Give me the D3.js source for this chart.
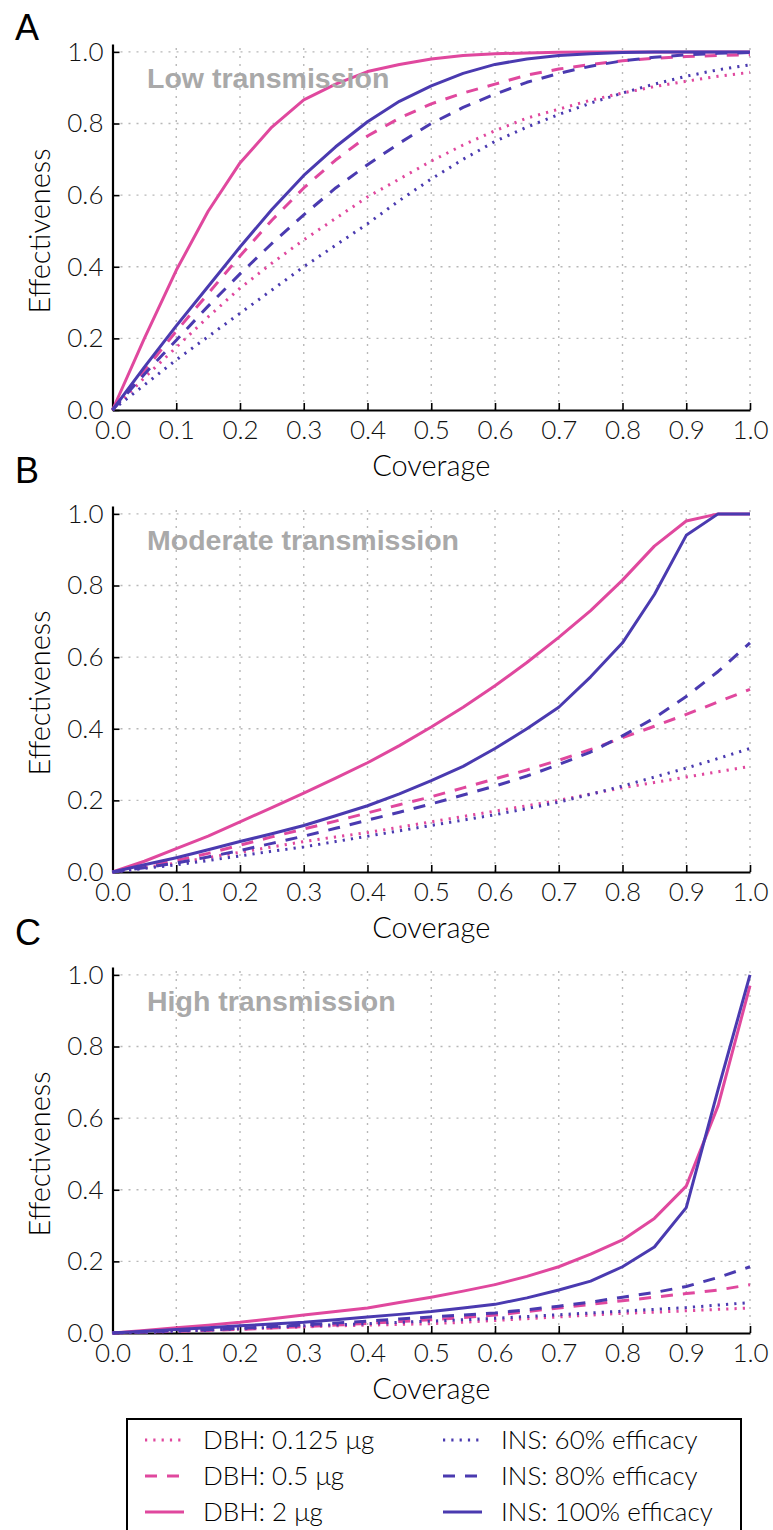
<!DOCTYPE html>
<html>
<head>
<meta charset="utf-8">
<script src="https://cdn.jsdelivr.net/npm/d3@7"></script>
<style>
  body { margin: 0; background: #fff; }
  svg { display: block; }
  text { font-family: Lato, Roboto, "Liberation Sans", sans-serif; font-weight: 300; }
</style>
</head>
<body>
<div id="chart"></div>
<script>
// coverage values (x) shared by all panels
const coverage = [0, 0.05, 0.1, 0.15, 0.2, 0.25, 0.3, 0.35, 0.4, 0.45, 0.5, 0.55, 0.6, 0.65, 0.7, 0.75, 0.8, 0.85, 0.9, 0.95, 1.0];
const xTicks = [0, 0.1, 0.2, 0.3, 0.4, 0.5, 0.6, 0.7, 0.8, 0.9, 1.0];
const yTicks = [0, 0.2, 0.4, 0.6, 0.8, 1.0];

const panelLetters = ["A", "B", "C"];
const panelTitles = ["Low transmission", "Moderate transmission", "High transmission"];
const seriesNames = ["DBH: 0.125 μg", "DBH: 0.5 μg", "DBH: 2 μg", "INS: 60% efficacy", "INS: 80% efficacy", "INS: 100% efficacy"];

// A - low transmission
const lowDbh0125 = [0, 0.09, 0.175, 0.26, 0.34, 0.41, 0.475, 0.535, 0.595, 0.645, 0.695, 0.74, 0.78, 0.815, 0.84, 0.865, 0.885, 0.903, 0.918, 0.932, 0.943];
const lowDbh05 = [0, 0.11, 0.22, 0.325, 0.43, 0.53, 0.62, 0.698, 0.765, 0.815, 0.855, 0.885, 0.91, 0.935, 0.952, 0.965, 0.975, 0.982, 0.987, 0.99, 0.992];
const lowDbh2 = [0, 0.2, 0.39, 0.555, 0.69, 0.79, 0.866, 0.91, 0.945, 0.965, 0.98, 0.99, 0.995, 0.997, 0.999, 1, 1, 1, 1, 1, 1];
const lowIns60 = [0, 0.07, 0.14, 0.205, 0.27, 0.335, 0.4, 0.46, 0.52, 0.585, 0.645, 0.7, 0.75, 0.79, 0.825, 0.857, 0.885, 0.91, 0.932, 0.95, 0.964];
const lowIns80 = [0, 0.1, 0.195, 0.29, 0.38, 0.465, 0.545, 0.62, 0.685, 0.745, 0.8, 0.845, 0.882, 0.915, 0.94, 0.96, 0.975, 0.985, 0.992, 0.996, 0.998];
const lowIns100 = [0, 0.12, 0.235, 0.345, 0.455, 0.56, 0.655, 0.735, 0.805, 0.862, 0.905, 0.94, 0.965, 0.98, 0.99, 0.995, 0.998, 1, 1, 1, 1];

// B - moderate transmission
const modDbh0125 = [0, 0.012, 0.025, 0.04, 0.055, 0.07, 0.085, 0.098, 0.11, 0.125, 0.14, 0.155, 0.17, 0.185, 0.2, 0.218, 0.235, 0.25, 0.265, 0.28, 0.295];
const modDbh05 = [0, 0.015, 0.032, 0.052, 0.075, 0.098, 0.12, 0.142, 0.165, 0.188, 0.21, 0.235, 0.26, 0.285, 0.312, 0.342, 0.375, 0.407, 0.44, 0.475, 0.51];
const modDbh2 = [0, 0.03, 0.065, 0.1, 0.14, 0.18, 0.22, 0.262, 0.305, 0.353, 0.405, 0.46, 0.52, 0.585, 0.655, 0.73, 0.815, 0.91, 0.98, 1, 1];
const modIns60 = [0, 0.01, 0.02, 0.032, 0.045, 0.058, 0.07, 0.085, 0.1, 0.115, 0.13, 0.145, 0.16, 0.177, 0.195, 0.217, 0.24, 0.265, 0.29, 0.317, 0.345];
const modIns80 = [0, 0.012, 0.025, 0.042, 0.06, 0.08, 0.1, 0.122, 0.145, 0.167, 0.19, 0.215, 0.24, 0.268, 0.3, 0.335, 0.38, 0.43, 0.49, 0.56, 0.64];
const modIns100 = [0, 0.02, 0.04, 0.062, 0.085, 0.107, 0.13, 0.157, 0.185, 0.218, 0.255, 0.295, 0.345, 0.4, 0.46, 0.545, 0.64, 0.775, 0.94, 1, 1];

// C - high transmission
const highDbh0125 = [0, 0.002, 0.005, 0.008, 0.011, 0.014, 0.017, 0.02, 0.022, 0.024, 0.026, 0.03, 0.035, 0.04, 0.045, 0.05, 0.055, 0.058, 0.062, 0.066, 0.07];
const highDbh05 = [0, 0.003, 0.005, 0.007, 0.01, 0.014, 0.018, 0.022, 0.027, 0.032, 0.037, 0.043, 0.05, 0.06, 0.07, 0.08, 0.09, 0.1, 0.11, 0.12, 0.135];
const highDbh2 = [0, 0.007, 0.015, 0.022, 0.03, 0.04, 0.05, 0.06, 0.07, 0.085, 0.1, 0.117, 0.135, 0.158, 0.185, 0.22, 0.26, 0.32, 0.41, 0.635, 0.97];
const highIns60 = [0, 0.002, 0.005, 0.008, 0.012, 0.016, 0.02, 0.023, 0.026, 0.03, 0.033, 0.037, 0.041, 0.046, 0.051, 0.056, 0.061, 0.066, 0.071, 0.078, 0.085];
const highIns80 = [0, 0.003, 0.006, 0.009, 0.013, 0.018, 0.023, 0.028, 0.033, 0.039, 0.045, 0.05, 0.056, 0.065, 0.075, 0.086, 0.1, 0.113, 0.13, 0.155, 0.185];
const highIns100 = [0, 0.005, 0.01, 0.015, 0.02, 0.025, 0.03, 0.037, 0.045, 0.052, 0.06, 0.07, 0.08, 0.098, 0.12, 0.145, 0.185, 0.24, 0.35, 0.68, 1.0];

const panelData = [
  [lowDbh0125, lowDbh05, lowDbh2, lowIns60, lowIns80, lowIns100],
  [modDbh0125, modDbh05, modDbh2, modIns60, modIns80, modIns100],
  [highDbh0125, highDbh05, highDbh2, highIns60, highIns80, highIns100]
];

const pink = "#e0489e";
const blue = "#4a3ab0";
const seriesColors = [pink, pink, pink, blue, blue, blue];
const dotted = "2.2,6.1";
const dashed = "12,10";
const seriesDash = [dotted, dashed, null, dotted, dashed, null];

const width = 773;
const height = 1530;

const svg = d3
  .select("#chart")
  .append("svg")
  .attr("width", width)
  .attr("height", height);

const x = d3.scaleLinear().domain([0, 1]).range([112.5, 750]);

// bottom of each panel (y = 0)
const panelBottoms = [410, 872, 1333];
const letterBaselines = [40, 483, 945];

panelBottoms.forEach((bottom, p) => {
  const y = d3.scaleLinear().domain([0, 1.022]).range([bottom, bottom - 366]);
  const g = svg.append("g");

  // grid
  const grid = g.append("g").attr("stroke", "#b8b8b8").attr("stroke-width", 1.4).attr("stroke-dasharray", "2,6");
  xTicks.slice(1).forEach((t) => {
    grid.append("line").attr("x1", x(t)).attr("x2", x(t)).attr("y1", y(0)).attr("y2", y(1.022));
  });
  yTicks.slice(1).forEach((t) => {
    grid.append("line").attr("x1", x(0)).attr("x2", x(1)).attr("y1", y(t)).attr("y2", y(t));
  });

  // axes, ticks inside
  const xAxis = g
    .append("g")
    .attr("transform", "translate(0," + bottom + ")")
    .call(d3.axisBottom(x).tickValues(xTicks).tickFormat(d3.format(".1f")).tickSizeInner(-7).tickSizeOuter(0).tickPadding(10));
  const yAxis = g
    .append("g")
    .attr("transform", "translate(" + x(0) + ",0)")
    .call(d3.axisLeft(y).tickValues(yTicks).tickFormat(d3.format(".1f")).tickSizeInner(-7).tickSizeOuter(0).tickPadding(9));
  [xAxis, yAxis].forEach((a) => {
    a.select(".domain").attr("stroke", "#000").attr("stroke-width", 2.2);
    a.selectAll(".tick line").attr("stroke", "#000").attr("stroke-width", 1.6);
    a.selectAll(".tick text")
      .attr("fill", "#111")
      .style("font-size", "26px")
      .style("font-weight", 300)
      .style("font-family", "Lato, Roboto, 'Liberation Sans', sans-serif");
  });
  xAxis.selectAll(".tick text").attr("dy", "0.74em");

  // series lines
  const line = d3
    .line()
    .x((d, i) => x(coverage[i]))
    .y((d) => y(d));
  panelData[p].forEach((values, s) => {
    g.append("path")
      .datum(values)
      .attr("d", line)
      .attr("fill", "none")
      .attr("stroke", seriesColors[s])
      .attr("stroke-width", 3)
      .attr("stroke-linejoin", "round")
      .attr("stroke-dasharray", seriesDash[s]);
  });

  // titles and labels
  g.append("text")
    .attr("x", 147)
    .attr("y", y(1) + 36)
    .attr("fill", "#a9a9a9")
    .style("font-family", "'Liberation Sans', Arial, sans-serif")
    .style("font-weight", "bold")
    .style("font-size", "28.5px")
    .text(panelTitles[p]);

  g.append("text")
    .attr("x", 15)
    .attr("y", letterBaselines[p])
    .style("font-size", "36px")
    .style("font-weight", "normal")
    .style("font-family", "'Liberation Sans', Arial, sans-serif")
    .text(panelLetters[p]);

  g.append("text")
    .attr("x", x(0.5))
    .attr("y", bottom + 66)
    .attr("text-anchor", "middle")
    .style("font-size", "29px")
    .text("Coverage");

  g.append("text")
    .attr("transform", "translate(40," + (bottom - 179) + ") rotate(-90)")
    .attr("text-anchor", "middle")
    .attr("dy", "0.35em")
    .style("font-size", "29px")
    .text("Effectiveness");
});

// legend
const legend = svg.append("g");
legend
  .append("rect")
  .attr("x", 127)
  .attr("y", 1419)
  .attr("width", 614)
  .attr("height", 130)
  .attr("fill", "#fff")
  .attr("stroke", "#000")
  .attr("stroke-width", 2);

const legendRows = [1440, 1476, 1512];
const legendCols = [145, 443];
seriesNames.forEach((name, s) => {
  const lx = legendCols[Math.floor(s / 3)];
  const ly = legendRows[s % 3];
  legend
    .append("line")
    .attr("x1", lx)
    .attr("x2", lx + 39)
    .attr("y1", ly)
    .attr("y2", ly)
    .attr("stroke", seriesColors[s])
    .attr("stroke-width", 3)
    .attr("stroke-dasharray", seriesDash[s]);
  legend
    .append("text")
    .attr("x", lx + 58)
    .attr("y", ly)
    .attr("dy", "0.35em")
    .style("font-size", "26px")
    .text(name);
});
</script>
</body>
</html>
